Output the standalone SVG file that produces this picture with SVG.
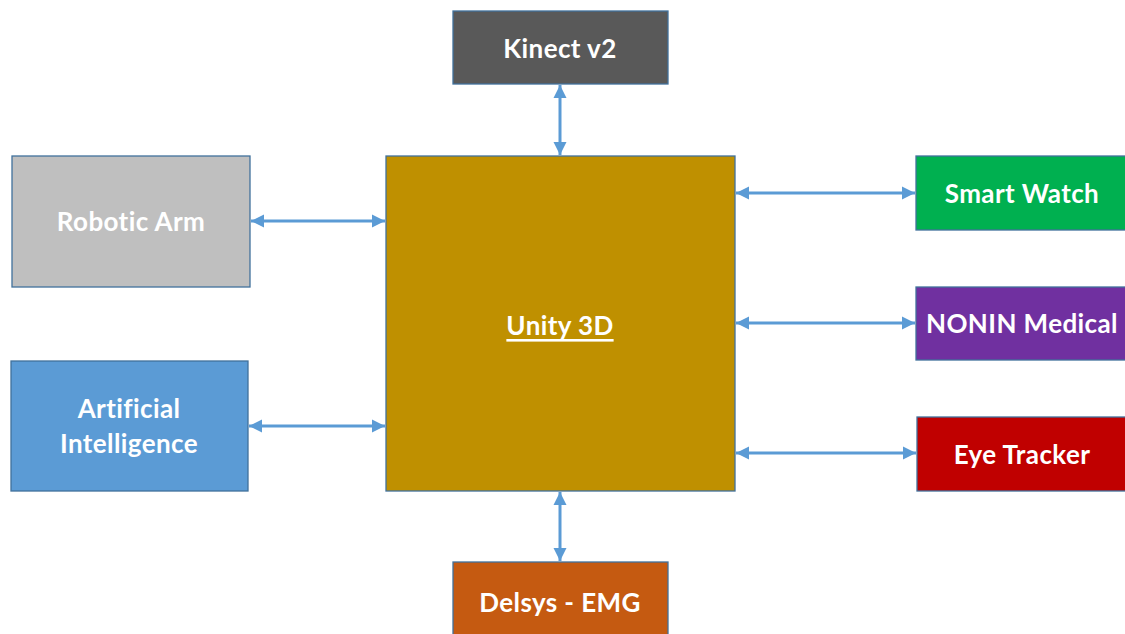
<svg xmlns="http://www.w3.org/2000/svg" width="1125" height="634" viewBox="0 0 1125 634">
<style>
.box{stroke:#41719C;stroke-width:1.3}
.t{font-family:Lato,"Open Sans","Liberation Sans",sans-serif;font-weight:bold;font-size:26px;letter-spacing:0.4px;fill:#ffffff;text-anchor:middle;dominant-baseline:central}
.c{stroke:#5B9BD5;stroke-width:3;fill:none;marker-start:url(#ah);marker-end:url(#ah)}
</style>
<defs>
<marker id="ah" viewBox="0 0 10 10" refX="10" refY="5" markerWidth="4.4" markerHeight="4.4" orient="auto-start-reverse" markerUnits="strokeWidth">
<path d="M0,0 L10,5 L0,10 z" fill="#5B9BD5"/>
</marker>
</defs>
<rect width="1125" height="634" fill="#ffffff"/>
<g id="connectors">
<line class="c" x1="560" y1="85" x2="560" y2="155"/>
<line class="c" x1="251" y1="221" x2="385" y2="221"/>
<line class="c" x1="249" y1="426" x2="385" y2="426"/>
<line class="c" x1="736" y1="193" x2="915" y2="193"/>
<line class="c" x1="736" y1="323" x2="915" y2="323"/>
<line class="c" x1="736" y1="453" x2="916" y2="453"/>
<line class="c" x1="560" y1="492" x2="560" y2="561"/>
</g>
<g id="unity">
<rect class="box" x="386" y="156" width="349" height="335" fill="#BF9000"/>
<text class="t" x="560" y="325" text-decoration="underline">Unity 3D</text>
</g>
<g id="kinect">
<rect class="box" x="453" y="11" width="215" height="73" fill="#595959"/>
<text class="t" x="560" y="48">Kinect v2</text>
</g>
<g id="robotic-arm">
<rect class="box" x="12" y="156" width="238" height="131" fill="#BFBFBF"/>
<text class="t" x="131" y="221">Robotic Arm</text>
</g>
<g id="ai">
<rect class="box" x="11" y="361" width="237" height="130" fill="#5B9BD5"/>
<text class="t" x="129" y="408">Artificial</text>
<text class="t" x="129" y="443">Intelligence</text>
</g>
<g id="smart-watch">
<rect class="box" x="916" y="156" width="212" height="74" fill="#00B050"/>
<text class="t" x="1022" y="193">Smart Watch</text>
</g>
<g id="nonin">
<rect class="box" x="916" y="287" width="212" height="73" fill="#7030A0"/>
<text class="t" x="1022" y="323">NONIN Medical</text>
</g>
<g id="eye-tracker">
<rect class="box" x="917" y="417" width="211" height="74" fill="#C00000"/>
<text class="t" x="1022" y="454">Eye Tracker</text>
</g>
<g id="delsys">
<rect class="box" x="453" y="562" width="215" height="76" fill="#C55A11"/>
<text class="t" x="560" y="602">Delsys - EMG</text>
</g>
</svg>
